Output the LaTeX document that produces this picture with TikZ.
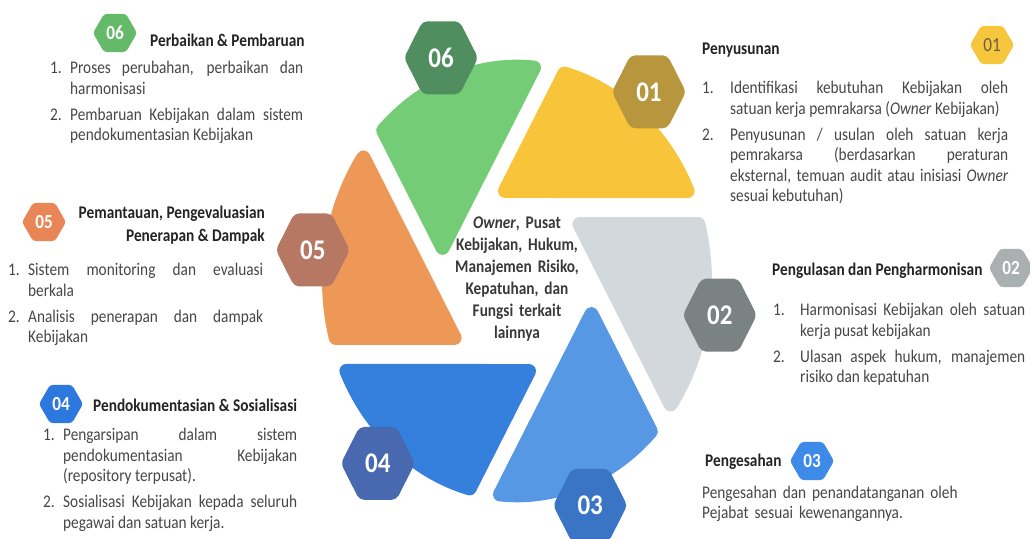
\documentclass[tikz,border=0pt]{standalone}
\usepackage{fontspec}
\setmainfont{Carlito}[FakeStretch=0.86]
\newfontfamily\numfont{Carlito}
\usetikzlibrary{shapes.geometric}

% Warna bilah dan segi enam
\definecolor{bilahkuning}{RGB}{248,196,58}
\definecolor{bilahhijau}{RGB}{116,204,118}
\definecolor{bilahoranye}{RGB}{238,152,88}
\definecolor{bilahbiru}{RGB}{52,128,220}
\definecolor{bilahlangit}{RGB}{86,152,228}
\definecolor{bilahabu}{RGB}{210,216,220}
\definecolor{hexsatu}{RGB}{184,150,62}
\definecolor{hexdua}{RGB}{122,130,130}
\definecolor{hextiga}{RGB}{58,116,196}
\definecolor{hexempat}{RGB}{72,104,176}
\definecolor{hexlima}{RGB}{182,120,98}
\definecolor{hexenam}{RGB}{80,142,96}
\definecolor{kecilsatu}{RGB}{246,198,60}
\definecolor{kecildua}{RGB}{170,175,175}
\definecolor{keciltiga}{RGB}{62,138,232}
\definecolor{kecilempat}{RGB}{45,120,222}
\definecolor{kecillima}{RGB}{232,134,88}
\definecolor{kecilenam}{RGB}{100,186,104}
\definecolor{teksisi}{RGB}{70,70,70}
\definecolor{teksjudul}{RGB}{35,35,35}
\definecolor{angkagelap}{RGB}{105,95,70}

\newcommand{\teks}{\fontsize{17.8}{20.5}\selectfont}
\newlength\butirlebar
\newcommand{\butir}[2]{\hangindent=\butirlebar\hangafter=1\noindent\makebox[\butirlebar][l]{#1}#2\par}

\tikzset{
	blade/.style={line width=14pt,line join=round},
	bighex/.style={regular polygon,regular polygon sides=6,minimum size=74pt,inner sep=0pt,
		rounded corners=5pt,text=white,font=\numfont\bfseries\fontsize{25}{25}\selectfont,transform shape},
	smallhex/.style={regular polygon,regular polygon sides=6,minimum size=44pt,inner sep=0pt,
		rounded corners=3pt,text=white,font=\bfseries\fontsize{20}{20}\selectfont},
	judul/.style={font=\bfseries\teks,text=teksjudul,inner sep=0pt,anchor=base west},
	isi/.style={font=\teks,text=teksisi,inner sep=0pt,anchor=base west,align=justify,
		execute at begin node={\setlength\parskip{5.5pt}\tolerance=10000\hbadness=10000\hyphenpenalty=10000}},
	pusat/.style={font=\bfseries\fontsize{17.8}{22}\selectfont,text=teksjudul!90,inner sep=0pt,
		anchor=base,align=center,text width=170pt}
}

\begin{document}
\begin{tikzpicture}[x=1pt,y=1pt]
	\useasboundingbox (0,0) rectangle (1030,538);

	% Bilah lingkaran
	\begin{scope}[shift={(517,257)},yscale=1.14]
		\foreach \k/\c in {0/bilahkuning,1/bilahhijau,2/bilahoranye,3/bilahbiru,4/bilahlangit,5/bilahabu}
			\filldraw[blade,fill=\c,draw=\c,rotate=60*\k] (98.7:79.9) -- (75.4:188)
				arc[start angle=75.4,end angle=24.8,radius=188] -- cycle;
		% Segi enam bernomor
		\foreach \n/\a/\r/\c in {01/51.5/212/hexsatu,02/-8.4/205/hexdua,03/-69.6/210/hextiga,
				04/-131/212/hexempat,05/172.4/206/hexlima,06/111.2/210/hexenam}
			\node[bighex,fill=\c] (h\n) at (\a:\r) {\n};
	\end{scope}

	% Teks tengah
	\node[pusat] (pusat) at (517,309) {\textit{Owner}, Pusat\\Kebijakan, Hukum,\\Manajemen Risiko,\\Kepatuhan, dan\\Fungsi terkait\\lainnya};

	% 06 Perbaikan & Pembaruan
	\node[smallhex,fill=kecilenam] (k06) at (115,505) {06};
	\node[judul] (j06) at (150,491) {Perbaikan \& Pembaruan};
	\node[isi,text width=253pt] (i06) at (50,464) {\setlength\butirlebar{20pt}%
		\butir{1.}{Proses perubahan, perbaikan dan\linebreak harmonisasi}%
		\butir{2.}{Pembaruan Kebijakan dalam sistem\linebreak pendokumentasian Kebijakan}};

	% 05 Pemantauan
	\node[smallhex,fill=kecillima] (k05) at (44,316) {05};
	\node[judul,anchor=base east] (j05) at (265,319) {Pemantauan, Pengevaluasian};
	\node[judul,anchor=base east] (j05b) at (265,296) {Penerapan \& Dampak};
	\node[isi,text width=255pt] (i05) at (8,262) {\setlength\butirlebar{20pt}%
		\butir{1.}{Sistem monitoring dan evaluasi\linebreak berkala}%
		\butir{2.}{Analisis penerapan dan dampak\linebreak Kebijakan}};

	% 04 Pendokumentasian
	\node[smallhex,fill=kecilempat] (k04) at (61,134) {04};
	\node[judul] (j04) at (93,126) {Pendokumentasian \& Sosialisasi};
	\node[isi,text width=254pt] (i04) at (43,97) {\setlength\butirlebar{20pt}%
		\butir{1.}{Pengarsipan dalam sistem\linebreak pendokumentasian Kebijakan\linebreak (repository terpusat).}%
		\butir{2.}{Sosialisasi Kebijakan kepada seluruh\linebreak pegawai dan satuan kerja.}};

	% 01 Penyusunan
	\node[judul] (j01) at (702,483) {Penyusunan};
	\node[smallhex,fill=kecilsatu,text=angkagelap,font=\fontsize{20}{20}\selectfont] (k01) at (992,493) {01};
	\node[isi,text width=306pt] (i01) at (702,444) {\setlength\butirlebar{28pt}%
		\butir{1.}{Identifikasi kebutuhan Kebijakan oleh\linebreak satuan kerja pemrakarsa (\textit{Owner} Kebijakan)}%
		\butir{2.}{Penyusunan / usulan oleh satuan kerja\linebreak pemrakarsa (berdasarkan peraturan\linebreak eksternal, temuan audit atau inisiasi \textit{Owner}\linebreak sesuai kebutuhan)}};

	% 02 Pengulasan
	\node[judul] (j02) at (772,262) {Pengulasan dan Pengharmonisan};
	\node[smallhex,fill=kecildua] (k02) at (1011,270) {02};
	\node[isi,text width=252pt] (i02) at (773,222) {\setlength\butirlebar{27pt}%
		\butir{1.}{Harmonisasi Kebijakan oleh satuan\linebreak kerja pusat kebijakan}%
		\butir{2.}{Ulasan aspek hukum, manajemen\linebreak risiko dan kepatuhan}};

	% 03 Pengesahan
	\node[judul] (j03) at (705,71) {Pengesahan};
	\node[smallhex,fill=keciltiga] (k03) at (812,77) {03};
	\node[isi,align=left,text width=300pt] (i03) at (702,40) {Pengesahan dan penandatanganan oleh\\Pejabat sesuai kewenangannya.};
\end{tikzpicture}
\end{document}
